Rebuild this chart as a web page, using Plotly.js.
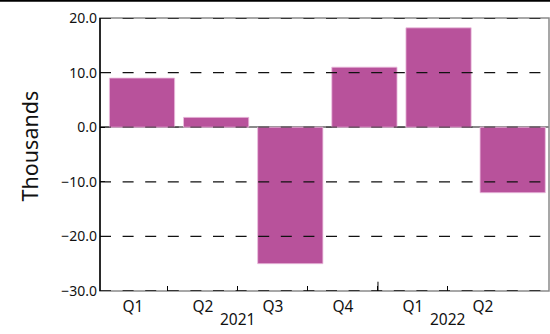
<!DOCTYPE html>
<html>
<head>
<meta charset="utf-8">
<script src="https://cdn.plot.ly/plotly-3.0.1.min.js"></script>
<style>html,body{margin:0;padding:0;background:#fff;}#chart{width:550px;height:334px;}</style>
</head>
<body>
<div id="chart"></div>
<script>
// ---- data ----
const years = ['2021', '2021', '2021', '2021', '2022', '2022'];
const quarters = ['Q1', 'Q2', 'Q3', 'Q4', 'Q1', 'Q2'];
const values = [9.0, 1.8, -25.0, 11.0, 18.2, -12.0];
const yTickVals = [-30, -20, -10, 0, 10, 20];
const yTitle = 'Thousands';

// ---- build ----
const idx = quarters.map((_, i) => i);
const barTrace = {
  type: 'bar',
  x: [years, quarters],
  y: values,
  xaxis: 'x',
  yaxis: 'y',
  marker: { color: '#b8529b', line: { color: 'rgba(235,190,222,0.8)', width: 1 } },
  hoverinfo: 'skip'
};
const labelTrace = {
  type: 'scatter',
  mode: 'markers',
  x: idx,
  y: values,
  xaxis: 'x2',
  yaxis: 'y',
  marker: { opacity: 0 },
  hoverinfo: 'skip',
  showlegend: false
};

const shapes = [];
// plot frame (gray)
shapes.push({ type: 'rect', xref: 'paper', yref: 'paper', x0: 0, x1: 1, y0: 0, y1: 1,
  line: { color: '#8a8a8a', width: 1.5 }, layer: 'below' });
// grid lines above bars
yTickVals.forEach(v => {
  shapes.push({ type: 'line', xref: 'paper', yref: 'y', x0: 0, x1: 1, y0: v, y1: v,
    line: { color: v === 0 ? 'rgba(0,0,0,0.55)' : '#111', width: 1.3, dash: '11px,11.6px' }, layer: 'above' });
});
// left axis line
shapes.push({ type: 'line', xref: 'paper', yref: 'paper', x0: 0, x1: 0, y0: 0, y1: 1,
  line: { color: '#000', width: 1.5 }, layer: 'above' });

// year groups -> annotation positions and divider
const groups = [];
years.forEach((y, i) => {
  const g = groups.length && groups[groups.length - 1].year === y ? groups[groups.length - 1] : null;
  if (g) { g.end = i; } else { groups.push({ year: y, start: i, end: i }); }
});
const annotations = groups.map(g => ({
  text: g.year, showarrow: false, xref: 'x2', yref: 'paper',
  x: (g.start + g.end) / 2, y: -0.103, xanchor: 'center', yanchor: 'middle',
  font: { family: 'Noto Sans, Open Sans, sans-serif', size: 15.5, color: '#111' }
}));
groups.slice(1).forEach(g => {
  shapes.push({ type: 'line', xref: 'x2', yref: 'paper', x0: g.start - 0.5, x1: g.start - 0.5,
    y0: 0, y1: 0.034, line: { color: '#000', width: 1 }, layer: 'above' });
});
annotations.push({
  text: yTitle, textangle: -90, showarrow: false,
  xref: 'paper', yref: 'paper', x: -0.156, y: 0.533, xanchor: 'center', yanchor: 'middle',
  font: { family: 'Noto Sans, Open Sans, sans-serif', size: 21.5, color: '#111' }
});
// top rule across the figure
shapes.push({ type: 'line', xref: 'paper', yref: 'paper', x0: -0.3, x1: 1.1, y0: 1 + 17.2 / 273, y1: 1 + 17.2 / 273,
  line: { color: '#000', width: 2 }, layer: 'above' });

const font = { family: 'Noto Sans, Open Sans, sans-serif', color: '#111', size: 14 };

const layout = {
  width: 550, height: 334,
  margin: { l: 100, r: 1, t: 18, b: 43 },
  paper_bgcolor: '#fff', plot_bgcolor: '#fff',
  font: font,
  showlegend: false,
  bargap: 0.12,
  xaxis: {
    type: 'multicategory',
    range: [-0.567, 5.49],
    showticklabels: false, ticks: '', showgrid: false, showline: false,
    showdividers: false, zeroline: false, fixedrange: true
  },
  xaxis2: {
    type: 'linear',
    overlaying: 'x', anchor: 'y', side: 'bottom',
    range: [-0.471, 5.943],
    tickmode: 'array', tickvals: idx, ticktext: quarters,
    ticks: '', ticklabelstandoff: 4,
    minor: { tickmode: 'array', tickvals: idx.slice(1).map(i => i - 0.5), ticks: 'inside', ticklen: 5, tickcolor: '#000', tickwidth: 1, showgrid: false },
    showgrid: false, showline: false, zeroline: false,
    tickfont: { family: font.family, size: 15.5, color: '#111' },
    fixedrange: true
  },
  yaxis: {
    range: [-30, 20],
    tickvals: yTickVals,
    tickformat: '.1f',
    ticks: 'inside', ticklen: 5, tickcolor: '#000',
    showgrid: false,
    zeroline: true, zerolinecolor: '#8a8a8a', zerolinewidth: 2,
    showline: false,
    ticklabelstandoff: 2,
    tickfont: { family: font.family, size: 14, color: '#111' },
    fixedrange: true
  },
  annotations: annotations,
  shapes: shapes
};

Plotly.newPlot('chart', [barTrace, labelTrace], layout, { displayModeBar: false, staticPlot: true });
</script>
</body>
</html>
